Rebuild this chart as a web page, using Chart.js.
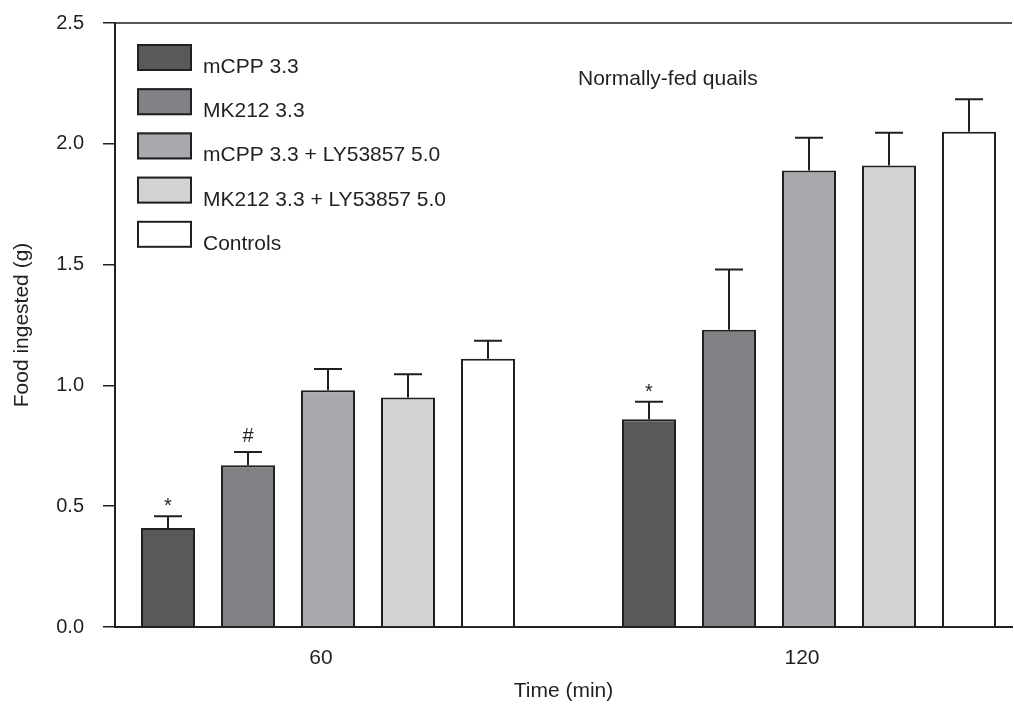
<!DOCTYPE html>
<html>
<head>
<meta charset="utf-8">
<script src="https://cdn.jsdelivr.net/npm/chart.js@4.4.1/dist/chart.umd.min.js"></script>
<style>
  html, body { margin: 0; padding: 0; background: #ffffff; }
  #wrap { width: 1014px; height: 704px; position: relative; }
</style>
</head>
<body>
<div id="wrap"><canvas id="c" width="1014" height="704"></canvas></div>
<script>
// ---- Data ----
const categories = ['60', '120'];               // Time (min)
const seriesNames = ['mCPP 3.3', 'MK212 3.3', 'mCPP 3.3 + LY53857 5.0', 'MK212 3.3 + LY53857 5.0', 'Controls'];

const mCPP        = [0.41, 0.86];
const MK212       = [0.67, 1.23];
const mCPP_LY     = [0.98, 1.89];
const MK212_LY    = [0.95, 1.91];
const controls    = [1.11, 2.05];

const mCPP_err     = [0.048, 0.072];
const MK212_err    = [0.054, 0.25];
const mCPP_LY_err  = [0.088, 0.135];
const MK212_LY_err = [0.096, 0.136];
const controls_err = [0.075, 0.134];

const mCPP_sig     = ['*', '*'];
const MK212_sig    = ['#', ''];
const mCPP_LY_sig  = ['', ''];
const MK212_LY_sig = ['', ''];
const controls_sig = ['', ''];

const yTicks = [0.0, 0.5, 1.0, 1.5, 2.0, 2.5];
const panelNote = 'Normally-fed quails';

// ---- Build the chart ----
const seriesValues = [mCPP, MK212, mCPP_LY, MK212_LY, controls];
const seriesErrors = [mCPP_err, MK212_err, mCPP_LY_err, MK212_LY_err, controls_err];
const seriesSig = [mCPP_sig, MK212_sig, mCPP_LY_sig, MK212_LY_sig, controls_sig];
const fills = ['#58595b', '#808285', '#a7a9ac', '#d1d3d4', '#ffffff'];
const ink = '#231f20';
const FONT = "'Liberation Sans', Arial, Helvetica, sans-serif";

Chart.defaults.font.family = FONT;
Chart.defaults.font.size = 20;
Chart.defaults.color = ink;

const datasets = seriesNames.map((name, i) => ({
  label: name,
  data: seriesValues[i].map((v, j) => ({ x: j, y: v })),
  backgroundColor: fills[i],
  borderColor: ink,
  borderWidth: 2,
  borderSkipped: 'start',
  categoryPercentage: 0.8316,
  barPercentage: 0.675
}));

const errorBarPlugin = {
  id: 'errorBars',
  afterDatasetsDraw(chart) {
    const ctx = chart.ctx;
    const yScale = chart.scales.y;
    ctx.save();
    ctx.strokeStyle = ink;
    ctx.lineWidth = 2;
    ctx.font = '20px ' + FONT;
    ctx.fillStyle = ink;
    ctx.textAlign = 'center';
    ctx.textBaseline = 'alphabetic';
    chart.data.datasets.forEach((ds, i) => {
      const meta = chart.getDatasetMeta(i);
      meta.data.forEach((bar, j) => {
        const v = seriesValues[i][j];
        const e = seriesErrors[i][j];
        const yTop = yScale.getPixelForValue(v);
        const yCap = yScale.getPixelForValue(v + e);
        ctx.beginPath();
        ctx.moveTo(bar.x, yTop);
        ctx.lineTo(bar.x, yCap);
        ctx.moveTo(bar.x - 14, yCap);
        ctx.lineTo(bar.x + 14, yCap);
        ctx.stroke();
        const s = seriesSig[i][j];
        if (s) {
          const m = ctx.measureText(s);
          const base = yCap - 10 - m.actualBoundingBoxDescent;
          ctx.fillText(s, bar.x, base);
        }
      });
    });
    ctx.restore();
  }
};

const legendAndFramePlugin = {
  id: 'boxLegend',
  afterDraw(chart) {
    const ctx = chart.ctx;
    const a = chart.chartArea;
    ctx.save();
    // top frame line
    ctx.strokeStyle = ink;
    ctx.lineWidth = 1.5;
    ctx.beginPath();
    ctx.moveTo(a.left, a.top);
    ctx.lineTo(a.right, a.top);
    ctx.stroke();
    // legend
    ctx.font = '21px ' + FONT;
    ctx.textAlign = 'left';
    ctx.textBaseline = 'alphabetic';
    chart.data.datasets.forEach((ds, i) => {
      const x = a.left + 22;
      const y = a.top + 21 + i * 44.2;
      ctx.fillStyle = ds.backgroundColor;
      ctx.fillRect(x, y, 55, 27);
      ctx.strokeStyle = ink;
      ctx.lineWidth = 2;
      ctx.strokeRect(x + 1, y + 1, 53, 25);
      ctx.fillStyle = ink;
      ctx.fillText(ds.label, x + 66, y + 29);
    });
    // panel note
    ctx.fillText(panelNote, a.left + 463, a.top + 62);
    ctx.restore();
  }
};

new Chart(document.getElementById('c'), {
  type: 'bar',
  data: { datasets },
  options: {
    responsive: false,
    animation: false,
    layout: { padding: { top: 23, right: 2, left: 0, bottom: 0 } },
    plugins: { legend: { display: false }, tooltip: { enabled: false } },
    scales: {
      x: {
        type: 'linear',
        offset: false,
        min: -0.44283,
        max: 1.42203,
        afterBuildTicks(scale) {
          scale.ticks = categories.map((c, i) => ({ value: i }));
        },
        afterFit(scale) { scale.height = 77; scale.paddingLeft = 0; scale.paddingRight = 0; },
        ticks: {
          callback: (v) => categories[v],
          padding: 19,
          labelOffset: -7,
          font: { size: 21 },
          color: ink,
          maxRotation: 0
        },
        grid: { display: true, drawOnChartArea: false, drawTicks: false },
        border: { display: true, color: ink, width: 2 },
        title: { display: true, text: 'Time (min)', font: { size: 21 }, color: ink, padding: { top: 0, bottom: 0 } }
      },
      y: {
        min: 0,
        max: 2.5,
        afterBuildTicks(scale) {
          scale.ticks = yTicks.map(v => ({ value: v }));
        },
        afterFit(scale) { scale.width = 115; scale.paddingTop = 0; scale.paddingBottom = 0; },
        ticks: {
          callback: (v) => Number(v).toFixed(1),
          padding: 19,
          font: { size: 20 },
          color: ink
        },
        grid: { display: true, drawOnChartArea: false, drawTicks: true, tickLength: 12, color: ink, lineWidth: 1.5 },
        border: { display: true, color: ink, width: 2 },
        title: { display: true, text: 'Food ingested (g)', font: { size: 21 }, color: ink, padding: { top: 10, bottom: 0 } }
      }
    }
  },
  plugins: [errorBarPlugin, legendAndFramePlugin]
});
</script>
</body>
</html>
